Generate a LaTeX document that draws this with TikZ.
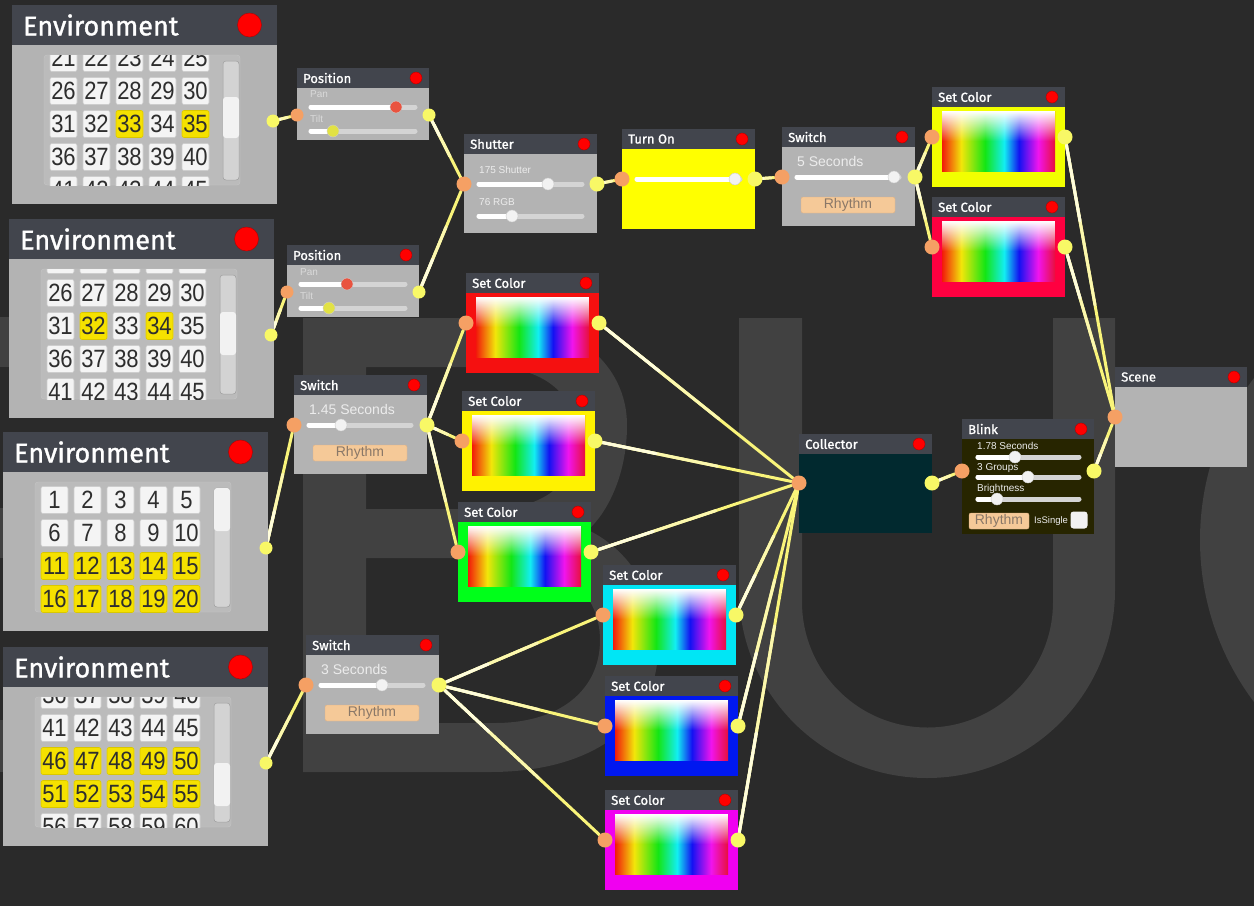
\documentclass[tikz,border=0pt]{standalone}
\usepackage{fontspec}
\setmainfont{Liberation Sans}
\newfontfamily\titlefont{Fira Sans}[FakeBold=1.2]
\newfontfamily\cellfont{Liberation Sans}[FakeStretch=0.88]
\usetikzlibrary{calc,fadings}

\definecolor{canvas}{HTML}{2A2A2A}
\definecolor{lettergray}{HTML}{414141}
\definecolor{headgray}{HTML}{42454D}
\definecolor{bodygray}{HTML}{B3B3B3}
\definecolor{panelgray}{HTML}{BBBBBB}
\definecolor{panelline}{HTML}{C6C6C6}
\definecolor{cellwhite}{HTML}{F4F4F4}
\definecolor{cellline}{HTML}{CDCDCD}
\definecolor{cellyellow}{HTML}{F5E100}
\definecolor{cellyline}{HTML}{D9C700}
\definecolor{celltext}{HTML}{2E2E2E}
\definecolor{scrollgray}{HTML}{D3D3D3}
\definecolor{dotred}{HTML}{FF0000}
\definecolor{dotline}{HTML}{B00000}
\definecolor{portorange}{HTML}{F5A064}
\definecolor{portyellow}{HTML}{F8F866}
\definecolor{linkyellow}{HTML}{F9F47A}
\definecolor{linkmid}{HTML}{FCF8AE}
\definecolor{linklight}{HTML}{FFFDDC}
\definecolor{lbltext}{HTML}{ECECEC}
\definecolor{faintlbl}{HTML}{D9D9D9}
\definecolor{trackgray}{HTML}{D4D4D4}
\definecolor{knobwhite}{HTML}{F2F2F2}
\definecolor{knobred}{HTML}{E9533F}
\definecolor{knobyellow}{HTML}{E2E244}
\definecolor{btnfill}{HTML}{F5C998}
\definecolor{btnline}{HTML}{DDB184}
\definecolor{btntext}{HTML}{8A7868}
\definecolor{turnyellow}{HTML}{FFFF00}
\definecolor{collteal}{HTML}{01292F}
\definecolor{blinkolive}{HTML}{272500}
\definecolor{scyellow}{HTML}{F2FF00}
\definecolor{scpink}{HTML}{FF0040}
\definecolor{scred}{HTML}{F51010}
\definecolor{scgold}{HTML}{FFF200}
\definecolor{scgreen}{HTML}{00FF1A}
\definecolor{sccyan}{HTML}{00E6F5}
\definecolor{scblue}{HTML}{0018F0}
\definecolor{scmagenta}{HTML}{F000F0}
\definecolor{specA}{HTML}{F21A0A}
\definecolor{specB}{HTML}{F2E60A}
\definecolor{specC}{HTML}{14E614}
\definecolor{specD}{HTML}{12EEF2}
\definecolor{specE}{HTML}{1212F2}
\definecolor{specF}{HTML}{F014EE}
\definecolor{specG}{HTML}{E8103C}
\definecolor{hazegray}{HTML}{A0A0A0}

\pgfdeclarehorizontalshading{spectrum}{100bp}{color(0bp)=(specA); color(25bp)=(specA); color(33.5bp)=(specB); color(44bp)=(specC); color(52.5bp)=(specD); color(59bp)=(specE); color(67.5bp)=(specF); color(75bp)=(specG); color(100bp)=(specG)}
\tikzfading[name=whitehaze, top color=transparent!0, middle color=transparent!12, bottom color=transparent!100]
\tikzfading[name=grayhaze, top color=transparent!100, middle color=transparent!20, bottom color=transparent!100]

\pgfdeclarelayer{letters}
\pgfdeclarelayer{wires}
\pgfsetlayers{letters,wires,main}

\newcommand{\block}[7][]{%
  \node[nodebody, minimum width=#5pt, minimum height=#6pt, #1] (#2) at (#3,#4) {};
  \node[nodehead, minimum width=#5pt] (#2-head) at (#3,#4) {};
  \node[headtitle] (#2-title) at ([xshift=6pt]#2-head.west) {#7};
  \node[reddot] (#2-dot) at ([xshift=-13pt]#2-head.east) {};
}
\newcommand{\slider}[5]{%
  \draw[slidertrack] (#1,#3) -- (#2,#3);
  \draw[slidertrack, draw=white] (#1,#3) -- (#4,#3);
  \fill[#5, draw=black!20, line width=0.4pt] (#4,#3) circle (6);
}
\newcommand{\spectrumbox}[4]{%
  \pgfmathsetmacro\sxa{#1}\pgfmathsetmacro\sya{#2}%
  \pgfmathsetmacro\sxb{#3}\pgfmathsetmacro\syb{#4}%
  \shade[shading=spectrum] (\sxa,\sya) rectangle (\sxb,\syb);
  \fill[hazegray, path fading=grayhaze, opacity=0.9] (\sxa,\sya) rectangle (\sxb,{\sya+(\syb-\sya)*0.8});
  \fill[white, path fading=whitehaze] (\sxa,\sya) rectangle (\sxb,{\sya+(\syb-\sya)*0.5});
}
\newcommand{\colorblock}[4]{%
  \block[fill=#4]{#1}{#2}{#3}{133}{100}{Set Color}
  \spectrumbox{#2+10}{#3+24}{#2+123}{#3+84}
  \node[inport] (#1-in) at (#2,#3+50) {};
  \node[outport] (#1-out) at (#2+133,#3+50) {};
}
\newcommand{\switchblock}[5]{%
  \block{#1}{#2}{#3}{133}{99}{Switch}
  \node[sliderlbl] (#1-lbl) at (#2+15,#3+34) {#4};
  \slider{#2+15}{#2+117}{#3+50}{#5}{knobwhite}
  \node[rhythmbtn, minimum width=94pt] (#1-btn) at (#2+66,#3+78) {Rhythm};
  \node[inport] (#1-in) at (#2,#3+50) {};
  \node[outport] (#1-out) at (#2+133,#3+50) {};
}
\newcommand{\envblock}[9]{%
  \node[nodebody, minimum width=265pt, minimum height=199pt] (#1) at (#2,#3) {};
  \node[nodehead, minimum width=265pt, minimum height=40pt] (#1-head) at (#2,#3) {};
  \node[bigtitle] (#1-title) at ([xshift=11pt]#1-head.west) {Environment};
  \node[reddot, minimum size=24pt] (#1-dot) at ([xshift=-27.5pt]#1-head.east) {};
  \filldraw[fill=panelgray, draw=panelline, rounded corners=3pt] (#2+32,#3+50) rectangle (#2+228,#3+180);
  \begin{scope}
    \clip (#2+32,#3+50) rectangle (#2+228,#3+180);
    \foreach \n in {#4,...,#5}{%
      \pgfmathsetmacro\cx{#2+51.5+33*mod(\n-1,5)}
      \pgfmathsetmacro\cy{#3+#6+33*floor((\n-#4)/5)}
      \filldraw[cellshape] (\cx-13.5,\cy-13.5) rectangle (\cx+13.5,\cy+13.5);
    }
    \foreach \n in {#7}{%
      \pgfmathsetmacro\cx{#2+51.5+33*mod(\n-1,5)}
      \pgfmathsetmacro\cy{#3+#6+33*floor((\n-#4)/5)}
      \filldraw[cellshape, fill=cellyellow, draw=cellyline] (\cx-13.5,\cy-13.5) rectangle (\cx+13.5,\cy+13.5);
    }
    \foreach \n in {#4,...,#5}{%
      \pgfmathsetmacro\cx{#2+51.5+33*mod(\n-1,5)}
      \pgfmathsetmacro\cy{#3+#6+33*floor((\n-#4)/5)}
      \pgfmathtruncatemacro\shown{(\cy-#3)>45}
      \ifnum\shown=1 \node[numtext] (#1-c\n) at (\cx,\cy) {\n};\fi
    }
  \end{scope}
  \filldraw[fill=scrollgray, draw=panelgray!85!black, line width=0.5pt, rounded corners=3pt] (#2+211,#3+56) rectangle (#2+227,#3+175);
  \fill[knobwhite, rounded corners=3pt] (#2+211,#3+#8) rectangle (#2+227,#3+#9);
}
\newcommand{\wire}[2]{%
  \draw[link] (#1) -- (#2);
  \draw[link, draw=linkmid] (#1) -- ($(#1)!0.6!(#2)$);
  \draw[link, draw=linklight] (#1) -- ($(#1)!0.3!(#2)$);
}

\begin{document}
\begin{tikzpicture}[
    x=1pt, y=-1pt,
    nodebody/.style={rectangle, anchor=north west, inner sep=0pt, outer sep=0pt, fill=bodygray},
    nodehead/.style={rectangle, anchor=north west, inner sep=0pt, outer sep=0pt, fill=headgray, minimum height=20pt},
    headtitle/.style={anchor=west, inner sep=0pt, text=white, font=\titlefont\fontsize{13}{13}\selectfont},
    bigtitle/.style={headtitle, font=\titlefont\fontsize{27}{27}\selectfont},
    reddot/.style={circle, inner sep=0pt, minimum size=12pt, fill=dotred, draw=dotline, line width=0.4pt},
    inport/.style={circle, inner sep=0pt, minimum size=15pt, fill=portorange},
    outport/.style={inport, fill=portyellow},
    cellshape/.style={rounded corners=2pt, fill=cellwhite, draw=cellline, line width=0.6pt},
    numtext/.style={inner sep=0pt, text=celltext, font=\cellfont\fontsize{25}{25}\selectfont},
    sliderlbl/.style={anchor=west, inner sep=0pt, text=lbltext, font=\fontsize{14}{14}\selectfont},
    smalllbl/.style={sliderlbl, font=\fontsize{10}{10}\selectfont},
    faintlbl/.style={sliderlbl, text=faintlbl, font=\fontsize{10}{10}\selectfont},
    slidertrack/.style={line width=5pt, line cap=round, draw=trackgray},
    rhythmbtn/.style={rectangle, rounded corners=2pt, inner sep=0pt, minimum height=16pt, fill=btnfill, draw=btnline, text=btntext, font=\fontsize{14}{14}\selectfont},
    link/.style={line width=3pt, line cap=round, draw=linkyellow}
]
    \useasboundingbox (0,0) rectangle (1254,906);

    \begin{pgfonlayer}{letters}
        \fill[canvas] (0,0) rectangle (1254,906);
        \clip (0,0) rectangle (1254,906);
        \fill[lettergray] (-30,317) rectangle (60,367);
        \fill[lettergray] (-30,508) rectangle (60,558);
        \fill[lettergray] (-30,720) rectangle (60,772);
        \fill[lettergray, even odd rule]
            (303,318) -- (490,318) .. controls (575,318) and (627,365) .. (627,425)
            .. controls (627,478) and (605,515) .. (588,530)
            .. controls (630,550) and (658,595) .. (658,648)
            .. controls (658,722) and (595,772) .. (490,772) -- (303,772) -- cycle
            (366,367) -- (490,367) .. controls (550,367) and (577,400) .. (577,438)
            .. controls (577,478) and (550,509) .. (490,509) -- (366,509) -- cycle
            (366,558) -- (495,558) .. controls (565,558) and (600,595) .. (600,640)
            .. controls (600,690) and (560,723) .. (495,723) -- (366,723) -- cycle;
        \fill[lettergray] (739,318) -- (802,318) -- (802,602) arc (180:0:125.5)
            -- (1053,318) -- (1115,318) -- (1115,590) arc (0:180:188) -- cycle;
        \fill[lettergray] (1470,540) circle (270);
    \end{pgfonlayer}

    \envblock{env1}{12}{5}{21}{45}{53}{33,35}{92}{133}
    \envblock{env2}{9}{219}{21}{45}{41}{32,34}{93}{136}
    \envblock{env3}{3}{432}{1}{20}{68}{11,...,20}{56}{99}
    \envblock{env4}{3}{647}{36}{60}{48}{46,...,55}{116}{159}
    \node[outport, minimum size=13pt] (env1-out) at (273,121) {};
    \node[outport, minimum size=13pt] (env2-out) at (271,335) {};
    \node[outport, minimum size=13pt] (env3-out) at (266,548) {};
    \node[outport, minimum size=13pt] (env4-out) at (266,763) {};

    \block{pos1}{297}{68}{132}{72}{Position}
    \node[faintlbl] (pos1-pan) at (310,94) {Pan};
    \slider{311}{415}{107}{396}{knobred}
    \node[faintlbl] (pos1-tilt) at (310,119) {Tilt};
    \slider{311}{415}{131}{333}{knobyellow}
    \node[inport, minimum size=13pt] (pos1-in) at (297,115) {};
    \node[outport, minimum size=13pt] (pos1-out) at (429,115) {};

    \block{pos2}{287}{245}{132}{72}{Position}
    \node[faintlbl] (pos2-pan) at (300,272) {Pan};
    \slider{301}{405}{284}{347}{knobred}
    \node[faintlbl] (pos2-tilt) at (300,296) {Tilt};
    \slider{301}{405}{308}{329}{knobyellow}
    \node[inport, minimum size=13pt] (pos2-in) at (287,292) {};
    \node[outport, minimum size=13pt] (pos2-out) at (419,292) {};

    \block{shut}{464}{134}{133}{99}{Shutter}
    \node[smalllbl] (shut-lbl) at (479,170) {175 Shutter};
    \slider{479}{582}{184}{548}{knobwhite}
    \node[smalllbl] (shut-rgb) at (479,202) {76 RGB};
    \slider{479}{582}{216}{512}{knobwhite}
    \node[inport] (shut-in) at (464,184) {};
    \node[outport] (shut-out) at (597,184) {};

    \block[fill=turnyellow]{turnon}{622}{129}{133}{100}{Turn On}
    \slider{637}{740}{179}{735}{knobwhite}
    \node[inport] (turnon-in) at (622,179) {};
    \node[outport] (turnon-out) at (755,179) {};

    \switchblock{sw1}{782}{127}{5 Seconds}{894}
    \switchblock{sw2}{294}{375}{1.45 Seconds}{341}
    \switchblock{sw3}{306}{635}{3 Seconds}{382}

    \colorblock{sca}{932}{87}{scyellow}
    \colorblock{scb}{932}{197}{scpink}
    \colorblock{scc}{466}{273}{scred}
    \colorblock{scd}{462}{391}{scgold}
    \colorblock{sce}{458}{502}{scgreen}
    \colorblock{scf}{603}{565}{sccyan}
    \colorblock{scg}{605}{676}{scblue}
    \colorblock{sch}{605}{790}{scmagenta}

    \block[fill=collteal]{coll}{799}{434}{133}{99}{Collector}
    \node[inport] (coll-in) at (799,483) {};
    \node[outport] (coll-out) at (932,483) {};

    \block[fill=blinkolive]{blink}{962}{419}{132}{115}{Blink}
    \node[smalllbl] (blink-sec) at (977,446) {1.78 Seconds};
    \slider{978}{1079}{457}{1015}{knobwhite}
    \node[smalllbl] (blink-grp) at (977,468) {3 Groups};
    \slider{978}{1079}{477}{1028}{knobwhite}
    \node[smalllbl] (blink-bri) at (977,489) {Brightness};
    \slider{978}{1079}{499}{997}{knobwhite}
    \node[rhythmbtn, minimum width=60pt] (blink-btn) at (999,521) {Rhythm};
    \node[smalllbl, font=\fontsize{9.5}{9.5}\selectfont] (blink-single) at (1034,521) {IsSingle};
    \node[rectangle, rounded corners=3pt, minimum size=17pt, inner sep=0pt, fill=knobwhite] (blink-check) at (1079,520) {};
    \node[inport] (blink-in) at (962,471) {};
    \node[outport] (blink-out) at (1094,471) {};

    \block{scene}{1115}{367}{132}{100}{Scene}
    \node[inport] (scene-in) at (1115,417) {};

    \begin{pgfonlayer}{wires}
        \foreach \a/\b in {env1/pos1, env2/pos2, env3/sw2, env4/sw3, pos1/shut, pos2/shut,
                shut/turnon, turnon/sw1, sw1/sca, sw1/scb, sw2/scc, sw2/scd, sw2/sce,
                sw3/scf, sw3/scg, sw3/sch, scc/coll, scd/coll, sce/coll, scf/coll,
                scg/coll, sch/coll, coll/blink, blink/scene, sca/scene, scb/scene}
            \wire{\a-out}{\b-in};
    \end{pgfonlayer}
\end{tikzpicture}
\end{document}
